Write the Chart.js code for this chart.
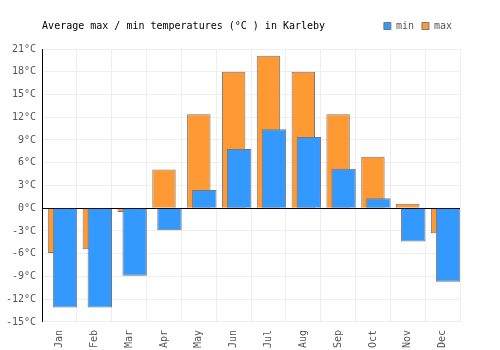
<!DOCTYPE html>
<html>
<head>
<meta charset="utf-8">
<script src="https://cdn.jsdelivr.net/npm/chart.js@4"></script>
<style>
  body { margin: 0; background: #fff; }
  .wrap { width: 500px; height: 350px; }
</style>
</head>
<body>
<div class="wrap"><canvas id="tempChart"></canvas></div>
<script>
    // Data
    const months = ["Jan", "Feb", "Mar", "Apr", "May", "Jun", "Jul", "Aug", "Sep", "Oct", "Nov", "Dec"];
    const minTemps = [-13.1, -13.1, -8.9, -2.9, 2.4, 7.8, 10.4, 9.4, 5.2, 1.3, -4.4, -9.7];
    const maxTemps = [-5.9, -5.4, -0.5, 5.1, 12.4, 18.0, 20.1, 18.0, 12.4, 6.8, 0.6, -3.3];
    const yTicks = [-15, -12, -9, -6, -3, 0, 3, 6, 9, 12, 15, 18, 21];

    const font = { family: "'DejaVu Sans Mono', monospace", size: 10, weight: "normal" };

    // empty datasets only reserve group slots so "max" sits centred and "min" overlaps it on the right
    const spacer = (stack) => ({ label: "", data: [], stack: stack, order: 0 });

    new Chart(document.getElementById("tempChart"), {
        type: "bar",
        data: {
            labels: months,
            datasets: [
                spacer("a"),
                spacer("b"),
                { label: "min", data: minTemps, stack: "c", order: 1, backgroundColor: "#3399ff", borderColor: "#777777", borderWidth: 1, barPercentage: 4.45 },
                { label: "max", data: maxTemps, stack: "b", order: 2, backgroundColor: "#ff9933", borderColor: "#777777", borderWidth: 1, barPercentage: 4.27 }
            ]
        },
        options: {
            responsive: true,
            maintainAspectRatio: false,
            animation: false,
            categoryPercentage: 0.4725,
            layout: { padding: { left: 0, right: 40, top: 13, bottom: -6 } },
            plugins: {
                // title sits under the legend box but is pulled up onto the same line
                title: {
                    display: true,
                    text: "Average max / min temperatures (°C ) in Karleby",
                    align: "start",
                    fullSize: false,
                    weight: 500,
                    color: "#000",
                    font: font,
                    padding: { top: -21, bottom: 17 }
                },
                legend: {
                    align: "end",
                    labels: {
                        font: font,
                        color: "#555",
                        boxWidth: 7,
                        boxHeight: 7,
                        padding: 8,
                        filter: item => item.text !== ""
                    }
                },
                tooltip: { enabled: false }
            },
            scales: {
                x: {
                    grid: { color: "#eeeeee", offset: true, drawTicks: false },
                    border: { color: "#eeeeee" },
                    ticks: { font: font, color: "#555", minRotation: 90, maxRotation: 90, padding: 8 }
                },
                y: {
                    min: yTicks[0],
                    max: yTicks[yTicks.length - 1],
                    afterBuildTicks: axis => { axis.ticks = yTicks.map(v => ({ value: v })); },
                    grid: {
                        color: ctx => ctx.tick && ctx.tick.value === 0 ? "#000" : "#eeeeee",
                        drawTicks: false
                    },
                    border: { color: "#000" },
                    ticks: { font: font, color: "#555", padding: 6, callback: v => v + "°C" }
                }
            }
        }
    });
</script>
</body>
</html>
